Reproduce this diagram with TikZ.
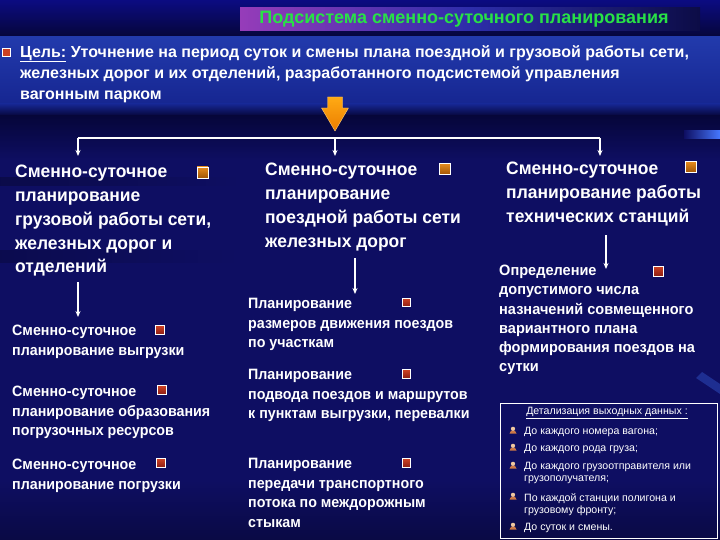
\documentclass[tikz,border=0pt]{standalone}
\usepackage{fontspec}
\setmainfont{Liberation Sans}
\newfontfamily\condfont[FakeStretch=0.97]{Liberation Sans}
\newfontfamily\itmfont[FakeStretch=0.95]{Liberation Sans}
\usetikzlibrary{arrows.meta}
\definecolor{bgnavy}{RGB}{14,14,98}
\definecolor{bgdark}{RGB}{6,6,58}
\definecolor{bandtop}{RGB}{34,58,172}
\definecolor{bandbot}{RGB}{22,38,145}
\definecolor{titleL}{RGB}{150,60,185}
\definecolor{titleM}{RGB}{45,45,170}
\definecolor{titleR}{RGB}{12,12,70}
\definecolor{titletxt}{RGB}{40,225,70}
\definecolor{orA}{RGB}{255,170,20}
\definecolor{orB}{RGB}{235,125,0}
\definecolor{bulOr}{RGB}{230,140,30}
\definecolor{bulOrD}{RGB}{160,85,5}
\definecolor{bulRd}{RGB}{205,65,35}
\definecolor{bulRdD}{RGB}{140,30,20}
\definecolor{streak}{RGB}{70,120,255}
\definecolor{iconA}{RGB}{205,120,70}
\definecolor{iconB}{RGB}{240,200,160}
\tikzset{
  hdr/.style={anchor=north west, inner sep=0pt, align=left, text=white,
    font=\condfont\bfseries\fontsize{18}{23.8}\selectfont},
  itm/.style={anchor=north west, inner sep=0pt, align=left, text=white,
    font=\itmfont\bfseries\fontsize{15}{19.5}\selectfont},
  obul/.style={draw=white, line width=0.9pt, minimum size=11pt, inner sep=0pt,
    top color=bulOr, bottom color=bulOrD},
  rbul/.style={draw=white, line width=0.8pt, minimum size=8.5pt, inner sep=0pt,
    top color=bulRd, bottom color=bulRdD},
  arr/.style={draw=white, line width=1.1pt, -{Stealth[length=6pt,width=5pt]}},
  dtxt/.style={anchor=north west, inner sep=0pt, align=left, text=white,
    font=\fontsize{10.6}{12}\selectfont},
  ico/.pic={\fill[iconA] (-3.5,2.5) -- (3.5,2.5) -- (1.8,-0.5) -- (-1.8,-0.5) -- cycle;
            \fill[iconB] (0,-2.2) circle (2.1);}
}
\begin{document}
\begin{tikzpicture}[x=1pt,y=-1pt]
\useasboundingbox (0,0) rectangle (720,540);
% ---------- background ----------
\fill[bgnavy] (0,0) rectangle (720,540);
\shade[top color=bgnavy!80!blue, bottom color=bgdark] (0,0) rectangle (720,37);
\shade[top color=bandtop, bottom color=bandbot] (0,37) rectangle (720,104);
\shade[top color=bandbot, bottom color=bgdark] (0,104) rectangle (720,116);
\shade[top color=bgdark, bottom color=bgnavy] (0,116) rectangle (720,160);
\shade[left color=bgnavy!75!black, right color=bgnavy] (0,178) rectangle (240,186);
\shade[left color=bgnavy!80!black, right color=bgnavy] (0,250) rectangle (240,262);
\shade[top color=bgnavy, bottom color=bgnavy!70!black] (0,480) rectangle (720,540);
\shade[left color=bgnavy, right color=streak] (684,131) rectangle (720,139);
\fill[streak, opacity=0.3] (702,372) -- (720,384) -- (720,394) -- (696,378) -- cycle;
% ---------- title ----------
\shade[left color=titleL, right color=titleR, middle color=titleM] (240,8) rectangle (700,31);
\node[text=titletxt, font=\bfseries\fontsize{18}{20}\selectfont, inner sep=0pt] (title) at (464,19.5)
  {Подсистема сменно-суточного планирования};
% ---------- goal ----------
\node[draw=white, line width=0.6pt, fill=bulRd, minimum size=8pt, inner sep=0pt] (gb) at (6,52) {};
\node[anchor=north west, inner sep=0pt, align=left, text=white,
  font=\bfseries\fontsize{16}{21}\selectfont] (goal) at (20,45)
  {\underline{Цель:} Уточнение на период суток и смены плана поездной и грузовой работы сети,\\
   железных дорог и их отделений, разработанного подсистемой управления\\
   вагонным парком};
% ---------- orange arrow ----------
\shade[top color=orA, bottom color=orB, draw=orA!60!white, line width=0.4pt]
  (327.5,97) -- (342.5,97) -- (342.5,108) -- (348.5,108) -- (335,131) -- (321.5,108) -- (327.5,108) -- cycle;
% ---------- branch ----------
\coordinate (bL) at (78,138);
\coordinate (bM) at (335,138);
\coordinate (bR) at (600,138);
\coordinate (tL) at (78,156);
\coordinate (tM) at (335,156);
\coordinate (tR) at (600,156);
\draw[white, line width=1.4pt] (bL) -- (bR);
\draw[arr] (bL) -- (tL);
\draw[arr] (bM) -- (tM);
\draw[arr] (bR) -- (tR);
% ---------- headers ----------
\node[hdr] (hL) at (15,165) {Сменно-суточное\\планирование\\грузовой работы сети,\\железных дорог и\\отделений};
\node[hdr] (hM) at (265,163) {Сменно-суточное\\планирование\\поездной работы сети\\железных дорог};
\node[hdr] (hR) at (506,162) {Сменно-суточное\\планирование работы\\технических станций};
\node[obul] (bhL) at (202.5,172.5) {};
\node[obul] (bhM) at (444.5,169) {};
\node[obul] (bhR) at (690.5,167) {};
% ---------- column arrows ----------
\coordinate (aL1) at (78,282);
\coordinate (aL2) at (78,317);
\coordinate (aM1) at (355,258);
\coordinate (aM2) at (355,294);
\coordinate (aR1) at (606,235);
\coordinate (aR2) at (606,269);
\draw[arr] (aL1) -- (aL2);
\draw[arr] (aM1) -- (aM2);
\draw[arr] (aR1) -- (aR2);
% ---------- left items ----------
\node[itm] (l1) at (12,325) {Сменно-суточное\\планирование выгрузки};
\node[itm] (l2) at (12,386) {Сменно-суточное\\планирование образования\\погрузочных ресурсов};
\node[itm] (l3) at (12,459) {Сменно-суточное\\планирование погрузки};
\node[rbul] (bl1) at (160,330) {};
\node[rbul] (bl2) at (162,390) {};
\node[rbul] (bl3) at (161,463) {};
% ---------- middle items ----------
\node[itm] (m1) at (248,298) {Планирование\\размеров движения поездов\\по участкам};
\node[itm] (m2) at (248,369) {Планирование\\подвода поездов и маршрутов\\к пунктам выгрузки, перевалки};
\node[itm] (m3) at (248,458) {Планирование\\передачи транспортного\\потока по междорожным\\стыкам};
\node[rbul] (bm1) at (406.5,302.5) {};
\node[rbul] (bm2) at (406.5,374) {};
\node[rbul] (bm3) at (406.5,463) {};
% ---------- right item ----------
\node[itm, font=\condfont\bfseries\fontsize{15}{19.2}\selectfont] (r1) at (499,265)
  {Определение\\допустимого числа\\назначений совмещенного\\вариантного плана\\формирования поездов на\\сутки};
\node[rbul, minimum size=10pt] (br1) at (658,271) {};
% ---------- detail box ----------
\draw[white, line width=1pt] (500,403) rectangle (717.5,538);
\node[text=white, inner sep=0pt, font=\fontsize{10.6}{12}\selectfont] (dt) at (607,413)
  {\underline{Детализация выходных данных :}};
\node[dtxt] (d1) at (524,427) {До каждого номера вагона;};
\node[dtxt] (d2) at (524,444) {До каждого рода груза;};
\node[dtxt] (d3) at (524,462) {До каждого грузоотправителя или\\грузополучателя;};
\node[dtxt] (d4) at (524,493) {По каждой станции полигона и\\грузовому фронту;};
\node[dtxt] (d5) at (524,523) {До суток и смены.};
\pic at (513,431) {ico};
\pic at (513,448) {ico};
\pic at (513,466) {ico};
\pic at (513,497) {ico};
\pic at (513,527) {ico};
\end{tikzpicture}
\end{document}
